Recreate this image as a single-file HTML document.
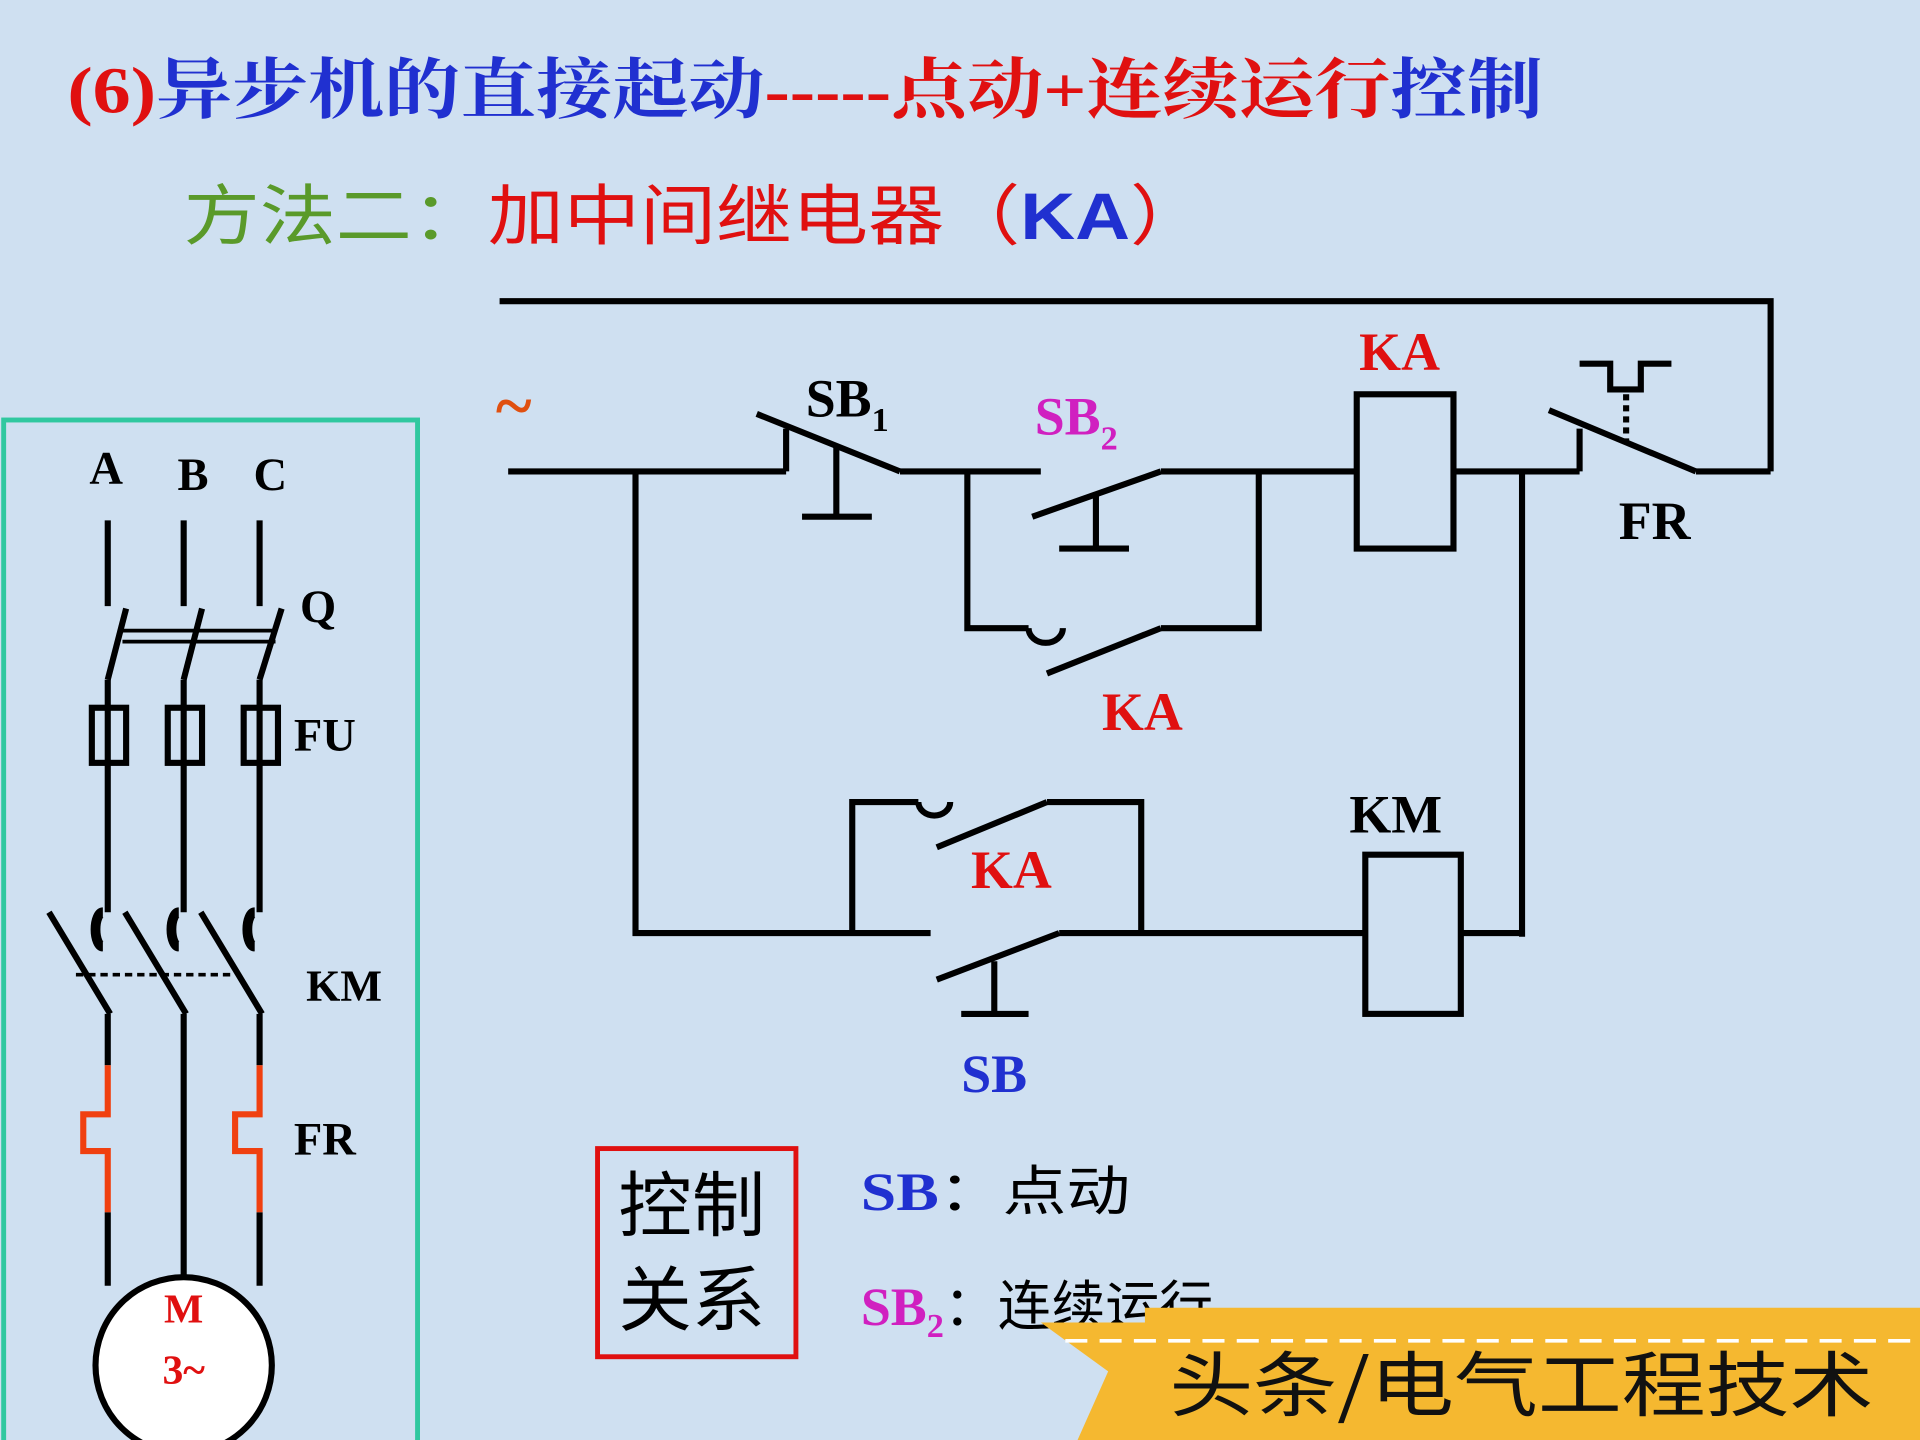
<!DOCTYPE html>
<html><head><meta charset="utf-8"><style>
html,body{margin:0;padding:0;width:1920px;height:1440px;overflow:hidden;background:#cfe0f1}
svg{display:block}
</style></head><body>
<svg width="1920" height="1440" viewBox="0 0 1568 1176" xmlns="http://www.w3.org/2000/svg">
<rect width="1568" height="1176" fill="#cfe0f1"/>
<g font-family="'Liberation Serif','Noto Serif CJK SC',serif" font-weight="bold">
<text x="55" y="92" font-size="54" textLength="1205" lengthAdjust="spacingAndGlyphs"><tspan fill="#e01010">(6)</tspan><tspan fill="#2030d0">异步机的直接起动</tspan><tspan fill="#e01010">-----点动+连续运行</tspan><tspan fill="#2030d0">控制</tspan></text>
<text x="150" y="195" font-size="54" font-weight="normal" font-family="'Liberation Sans','Noto Sans CJK SC',sans-serif" textLength="835" lengthAdjust="spacingAndGlyphs"><tspan fill="#5a9a2a">方法二：</tspan><tspan fill="#e01010">加中间继电器（</tspan><tspan fill="#2030d0" font-weight="bold">KA</tspan><tspan fill="#e01010">）</tspan></text>
</g>
<g stroke="#000" stroke-width="5" fill="none">
<polyline points="408,246 1446,246 1446,385"/>
<line x1="415" y1="385" x2="642" y2="385"/>
<line x1="642" y1="385" x2="642" y2="350"/>
<line x1="618" y1="338" x2="735" y2="385"/>
<line x1="735" y1="385" x2="850" y2="385"/>
<line x1="683" y1="365" x2="683" y2="422"/><line x1="655" y1="422" x2="712" y2="422"/>
<line x1="843" y1="422" x2="948" y2="385"/>
<line x1="948" y1="385" x2="1108" y2="385"/>
<line x1="895" y1="402" x2="895" y2="448"/><line x1="865" y1="448" x2="922" y2="448"/>
<polyline points="790,385 790,513 840,513"/>
<path d="M840,513 A14,12 0 0 0 868,513"/>
<line x1="855" y1="550" x2="948" y2="513"/>
<polyline points="948,513 1028,513 1028,385"/>
<rect x="1108" y="322" width="79" height="126"/>
<line x1="1187" y1="385" x2="1290" y2="385"/>
<line x1="1290" y1="385" x2="1290" y2="350"/>
<line x1="1265" y1="335" x2="1385" y2="385"/>
<line x1="1385" y1="385" x2="1446" y2="385"/>
<polyline points="1290,297 1315,297 1315,318 1340,318 1340,297 1365,297"/>
<line x1="1328" y1="322" x2="1328" y2="362" stroke-dasharray="5,4"/>
<line x1="1243" y1="385" x2="1243" y2="765"/>
<polyline points="519,385 519,762 760,762"/>
<line x1="765" y1="800" x2="865" y2="762"/>
<line x1="865" y1="762" x2="1115" y2="762"/>
<line x1="812" y1="785" x2="812" y2="828"/><line x1="785" y1="828" x2="840" y2="828"/>
<polyline points="696,762 696,655 750,655"/>
<path d="M750,655 A13,11 0 0 0 776,655"/>
<line x1="765" y1="692" x2="855" y2="655"/>
<polyline points="855,655 932,655 932,762"/>
<rect x="1115" y="698" width="78" height="130"/>
<line x1="1193" y1="762" x2="1243" y2="762"/>
</g>
<text x="405" y="350" font-size="56" fill="#e05010" font-weight="bold" font-family="'Liberation Serif',serif">~</text>
<g font-family="'Liberation Serif',serif" font-weight="bold" font-size="44">
<text x="658" y="340" fill="#000">SB<tspan font-size="28" dy="12">1</tspan></text>
<text x="845" y="355" fill="#d020c0">SB<tspan font-size="28" dy="12">2</tspan></text>
<text x="1110" y="302" fill="#e01010">KA</text>
<text x="1322" y="440" fill="#000">FR</text>
<text x="900" y="596" fill="#e01010">KA</text>
<text x="793" y="725" fill="#e01010">KA</text>
<text x="1102" y="680" fill="#000">KM</text>
<text x="785" y="892" fill="#2030d0">SB</text>
</g>
<rect x="3" y="343" width="338" height="840" fill="none" stroke="#30c8a0" stroke-width="4"/>
<g font-family="'Liberation Serif',serif" font-weight="bold" font-size="38" fill="#000">
<text x="73" y="395">A</text><text x="145" y="400">B</text><text x="207" y="400">C</text>
<text x="245" y="508">Q</text><text x="240" y="613">FU</text><text x="250" y="817" font-size="36">KM</text><text x="240" y="943">FR</text>
</g>
<g stroke="#000" stroke-width="5" fill="none">
<line x1="88" y1="425" x2="88" y2="495"/><line x1="150" y1="425" x2="150" y2="495"/><line x1="212" y1="425" x2="212" y2="495"/>
<line x1="103" y1="497" x2="88" y2="555"/><line x1="165" y1="497" x2="150" y2="555"/><line x1="230" y1="497" x2="212" y2="555"/>
<line x1="100" y1="515" x2="225" y2="515" stroke-width="3"/><line x1="100" y1="524" x2="225" y2="524" stroke-width="3"/>
<line x1="88" y1="555" x2="88" y2="745"/><line x1="150" y1="555" x2="150" y2="745"/><line x1="212" y1="555" x2="212" y2="745"/>
<rect x="75" y="578" width="28" height="45" fill="#cfe0f1"/><rect x="137" y="578" width="28" height="45" fill="#cfe0f1"/><rect x="199" y="578" width="28" height="45" fill="#cfe0f1"/>
<line x1="88" y1="578" x2="88" y2="623"/><line x1="150" y1="578" x2="150" y2="623"/><line x1="212" y1="578" x2="212" y2="623"/>
<path d="M84,745 a6,14 0 0 0 0,28" stroke-width="8"/><path d="M146,745 a6,14 0 0 0 0,28" stroke-width="8"/><path d="M208,745 a6,14 0 0 0 0,28" stroke-width="8"/>
<line x1="40" y1="745" x2="90" y2="828"/><line x1="102" y1="745" x2="152" y2="828"/><line x1="164" y1="745" x2="214" y2="828"/>
<line x1="62" y1="796" x2="190" y2="796" stroke-width="3" stroke-dasharray="6,4"/>
<line x1="88" y1="828" x2="88" y2="870"/><line x1="150" y1="828" x2="150" y2="1045"/><line x1="212" y1="828" x2="212" y2="870"/>
<line x1="88" y1="990" x2="88" y2="1050"/><line x1="212" y1="990" x2="212" y2="1050"/>
<circle cx="150" cy="1115" r="72" fill="#fff"/>
</g>
<g stroke="#f04010" stroke-width="5" fill="none">
<polyline points="88,870 88,910 68,910 68,940 88,940 88,990"/>
<polyline points="212,870 212,910 192,910 192,940 212,940 212,990"/>
</g>
<g font-family="'Liberation Serif',serif" font-weight="bold" font-size="34" fill="#e01010" text-anchor="middle">
<text x="150" y="1080">M</text><text x="150" y="1130">3~</text>
</g>
<rect x="488" y="938" width="162" height="170" fill="none" stroke="#e01010" stroke-width="4"/>
<g font-family="'Liberation Sans','Noto Sans CJK SC',sans-serif" font-size="58" fill="#000">
<text x="505" y="1005" textLength="120" lengthAdjust="spacingAndGlyphs">控制</text><text x="505" y="1082" textLength="120" lengthAdjust="spacingAndGlyphs">关系</text>
</g>
<g font-family="'Liberation Serif',serif" font-weight="bold" font-size="44">
<text x="703" y="988" fill="#2030d0" textLength="220" lengthAdjust="spacingAndGlyphs">SB<tspan fill="#000" font-weight="normal" font-family="'Noto Sans CJK SC',sans-serif">：点动</tspan></text>
<text x="703" y="1082" fill="#d020c0">SB<tspan font-size="28" dy="10">2</tspan><tspan fill="#000" dy="-10" font-weight="normal" font-family="'Noto Sans CJK SC',sans-serif">：连续运行</tspan></text>
</g>
<polygon points="935,1068 1568,1068 1568,1176 880,1176 905,1120 850,1080 935,1080" fill="#f5b830"/>
<line x1="870" y1="1095" x2="1560" y2="1095" stroke="#fff" stroke-width="3" stroke-dasharray="18,10"/>
<text x="955" y="1152" font-family="'Noto Sans CJK SC',sans-serif" font-size="58" fill="#111" textLength="575" lengthAdjust="spacingAndGlyphs">头条/电气工程技术</text>
</svg>
</body></html>
